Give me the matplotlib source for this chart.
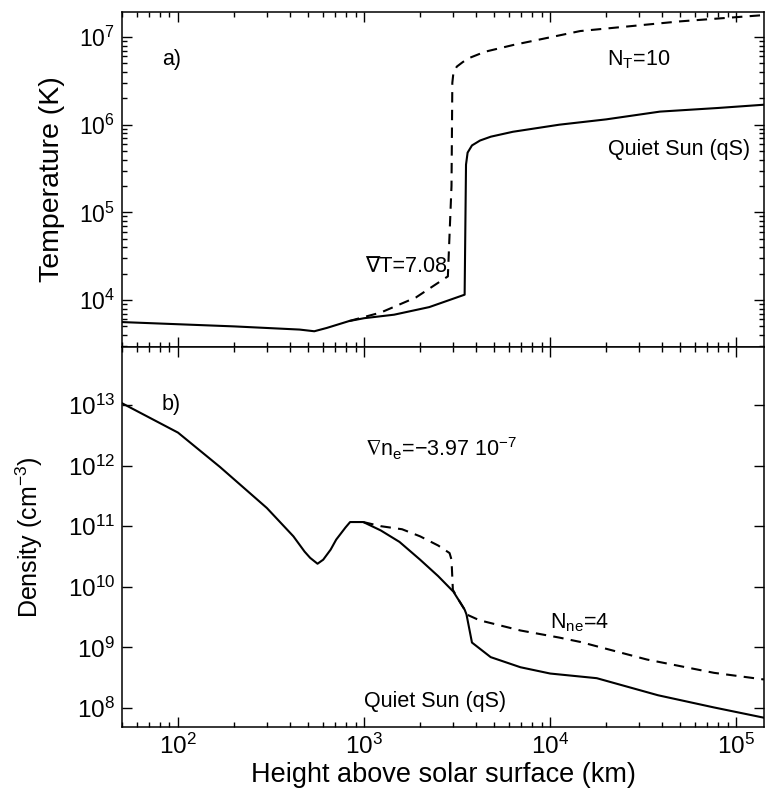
import numpy as np
import matplotlib
matplotlib.use("Agg")
import matplotlib.pyplot as plt
from matplotlib.ticker import LogLocator

plt.rcParams['font.family'] = ['Liberation Sans', 'DejaVu Sans']
plt.rcParams['mathtext.fontset'] = 'custom'
plt.rcParams['mathtext.rm'] = 'Liberation Sans'
plt.rcParams['mathtext.it'] = 'Liberation Sans:italic'
plt.rcParams['mathtext.default'] = 'regular'
plt.rcParams['mathtext.fallback'] = 'stixsans'

# ---- Temperature, quiet Sun (solid) ----
h_T_qs = [50, 200, 450, 540, 630, 830, 1000, 1450, 2240, 3470, 3530, 3600,
          3800, 4200, 4800, 6300, 11200, 20000, 38900, 79400, 141000]
T_qs = [5600, 5000, 4600, 4400, 4800, 5750, 6200, 6800, 8300, 11500, 3.5e5,
        4.8e5, 5.8e5, 6.6e5, 7.3e5, 8.3e5, 1.0e6, 1.15e6, 1.41e6, 1.55e6, 1.69e6]

# ---- Temperature, modified (dashed) ----
h_T_mod = [830, 1230, 1900, 2820, 2950, 2980, 3020, 3150, 3400, 3700, 4470,
           6310, 14500, 50100, 141000]
T_mod = [5750, 7200, 10700, 18600, 2.0e5, 3.0e6, 3.9e6, 4.6e6, 5.2e6, 5.8e6,
         6.8e6, 8.1e6, 1.17e7, 1.51e7, 1.78e7]

# ---- Density, quiet Sun (solid) ----
h_n_qs = [50, 100, 168, 300, 417, 479, 513, 562, 603, 661, 708, 794, 841, 990,
          1230, 1550, 2000, 2500, 3020, 3470, 3550, 3800, 4790, 6920, 10000,
          17800, 38000, 75900, 141000]
n_qs = [1.07e13, 3.5e12, 9.5e11, 2.0e11, 6.8e10, 3.8e10, 3.0e10, 2.4e10,
        2.8e10, 4.1e10, 6.0e10, 9.5e10, 1.17e11, 1.17e11, 8.5e10, 5.5e10,
        2.8e10, 1.5e10, 8.3e9, 4.2e9, 3.5e9, 1.2e9, 6.9e8, 4.7e8, 3.7e8,
        3.1e8, 1.62e8, 1.02e8, 6.9e7]

# ---- Density, modified (dashed) ----
h_n_mod = [990, 1230, 1600, 2000, 2500, 2880, 2950, 3000, 3200, 3470, 3550,
           4170, 6920, 11200, 14500, 33100, 75900, 141000]
n_mod = [1.17e11, 1.0e11, 8.9e10, 6.8e10, 4.8e10, 3.6e10, 2.8e10, 8.9e9,
         6.3e9, 4.2e9, 3.5e9, 2.8e9, 1.9e9, 1.45e9, 1.23e9, 6.3e8, 3.8e8,
         2.95e8]

fig = plt.figure(figsize=(7.65, 7.96), dpi=100)
L, R = 122 / 765, 764 / 765
y_top, y_mid, y_bot = 1 - 12 / 796, 1 - 347 / 796, 1 - 727 / 796
ax1 = fig.add_axes([L, y_mid, R - L, y_top - y_mid])
ax2 = fig.add_axes([L, y_bot, R - L, y_mid - y_bot], sharex=ax1)

lw = 1.5
dash = (0, (5, 3.5))
ax1.plot(h_T_qs, T_qs, color='black', lw=lw)
ax1.plot(h_T_mod, T_mod, color='black', lw=lw, ls=dash)
ax2.plot(h_n_qs, n_qs, color='black', lw=lw)
ax2.plot(h_n_mod, n_mod, color='black', lw=lw, ls=dash)

for ax in (ax1, ax2):
    ax.set_xscale('log')
    ax.set_yscale('log')
    ax.tick_params(which='both', direction='in', top=True, right=True,
                   width=1, pad=5)
    ax.tick_params(which='major', length=7)
    ax.tick_params(which='minor', length=3.5)
    for s in ax.spines.values():
        s.set_linewidth(1.1)

ax1.tick_params(axis='y', labelsize=16.5)
ax2.tick_params(axis='both', labelsize=17.5)

ax1.set_xlim(50, 1.41e5)
ax1.set_ylim(2.91e3, 1.93e7)
ax2.set_ylim(4.85e7, 9.06e13)
ax2.yaxis.set_minor_locator(LogLocator(base=10, subs=[]))
ax1.yaxis.set_minor_locator(LogLocator(base=10, subs=np.arange(2, 10)))
ax1.tick_params(labelbottom=False)

ax1.set_ylabel('Temperature (K)', fontsize=20.5, labelpad=10)
ax2.set_ylabel('Density (cm$^{-3}$)', fontsize=18, labelpad=16)
ax2.set_xlabel('Height above solar surface (km)', fontsize=19.5, labelpad=2)

fs = 15.5
ax1.text(0.062, 0.857, 'a)', transform=ax1.transAxes, fontsize=fs, va='center')
ax1.text(0.755, 0.857, 'N$_T$=10', transform=ax1.transAxes, fontsize=fs, va='center')
ax1.text(0.757, 0.591, 'Quiet Sun (qS)', transform=ax1.transAxes, fontsize=fs, va='center')
ax1.text(0.378, 0.239, '\u2207T=7.08', transform=ax1.transAxes, fontsize=fs, va='center')

ax2.text(0.062, 0.849, 'b)', transform=ax2.transAxes, fontsize=fs, va='center')
ax2.text(0.378, 0.731, r'$\nabla$n$_e$=' + '\u2212' + r'3.97 10$^{-7}$',
         transform=ax2.transAxes, fontsize=fs, va='center')
ax2.text(0.667, 0.274, 'N$_{ne}$=4', transform=ax2.transAxes, fontsize=fs, va='center')
ax2.text(0.377, 0.068, 'Quiet Sun (qS)', transform=ax2.transAxes, fontsize=fs, va='center')

fig.savefig('out.png', dpi=100)
